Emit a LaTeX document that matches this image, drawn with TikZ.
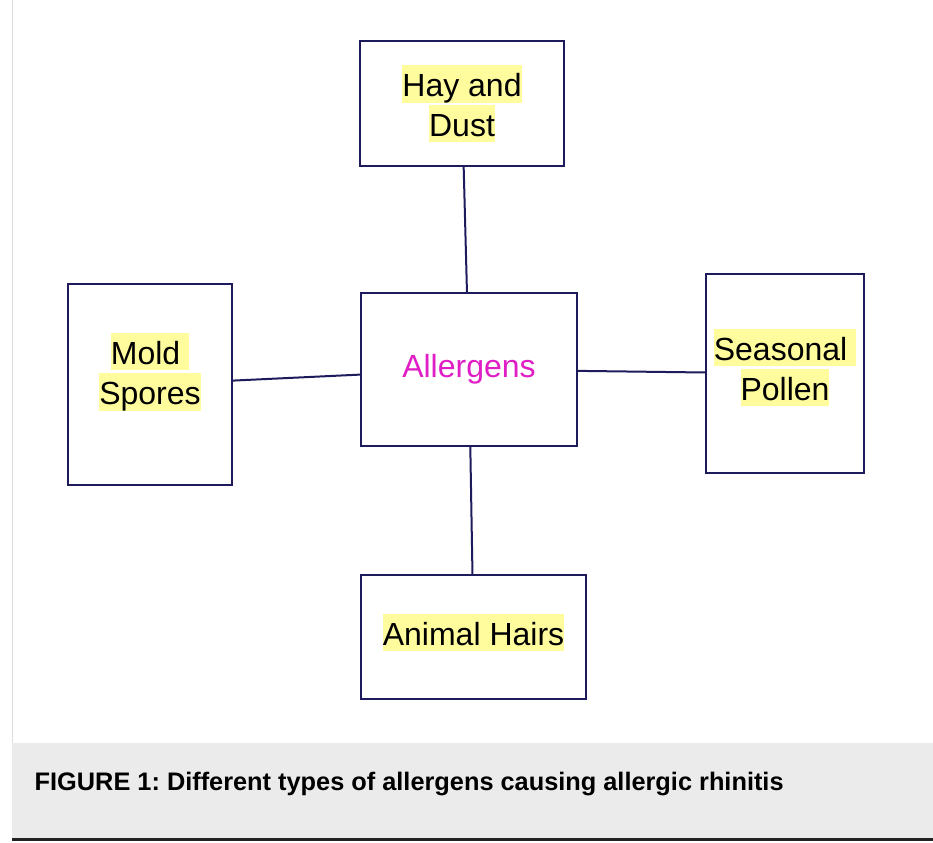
\documentclass[tikz,border=0pt]{standalone}
\usepackage{fontspec}
\setmainfont{Liberation Sans}
\usetikzlibrary{positioning}
\definecolor{boxnavy}{HTML}{1E1B5C}
\definecolor{hubpink}{HTML}{E01EC6}
\definecolor{hlyellow}{HTML}{FFFC9E}
\definecolor{capgray}{HTML}{EBEBEB}
\definecolor{capline}{HTML}{222222}
\definecolor{edgegray}{HTML}{DDDDDD}
\newcommand{\hlt}[1]{{\setlength{\fboxsep}{0pt}\colorbox{hlyellow}{\rule[-4pt]{0pt}{28pt}#1}}}
\frenchspacing

\begin{document}
\begin{tikzpicture}[
    x=0.75pt, y=-0.75pt,
    font=\fontsize{24}{30}\selectfont,
    every node/.style={align=center},
    box/.style={
        draw=boxnavy, line width=1.5pt, fill=white, inner sep=0pt
    },
    link/.style={draw=boxnavy, line width=1.5pt},
    caption/.style={font=\fontsize{19}{23}\selectfont\bfseries, text=black, anchor=west}
]
\useasboundingbox (0,0) rectangle (933,843);

\node[box, minimum width=162pt, minimum height=114.75pt, text=hubpink, text depth=6pt] (allergens) at (469,369.5) {Allergens};

\node[box, above=93.75pt of allergens, xshift=-5.25pt, minimum width=153pt, minimum height=93.75pt] (hay)
     {\hlt{Hay and}\\\hlt{Dust}};
\node[box, left=95.25pt of allergens, yshift=-11.25pt, minimum width=123pt, minimum height=150.75pt,
      text depth=23.5pt] (mold) {\hlt{Mold\ }\\\hlt{Spores}};
\node[box, right=95.25pt of allergens, yshift=-3pt, minimum width=118.5pt, minimum height=149.25pt,
      text depth=13pt] (pollen) {\hlt{Seasonal\ }\\\hlt{Pollen}};
\node[box, below=95.25pt of allergens, xshift=3.4pt, minimum width=168.75pt, minimum height=93pt,
      text depth=11pt] (hairs) {\hlt{Animal Hairs}};

\draw[link] (hay) -- (allergens);
\draw[link] (mold) -- (allergens);
\draw[link] (allergens) -- (pollen);
\draw[link] (allergens) -- (hairs);

% caption strip
\draw[edgegray, line width=0.75pt] (12,0) -- (12,743);
\fill[capgray] (12,743) rectangle (933,838);
\draw[capline, line width=2.25pt] (12,839.5) -- (933,839.5);
\node[caption] (cap) at (30,784) {FIGURE 1: Different types of allergens causing allergic rhinitis};

\end{tikzpicture}
\end{document}
